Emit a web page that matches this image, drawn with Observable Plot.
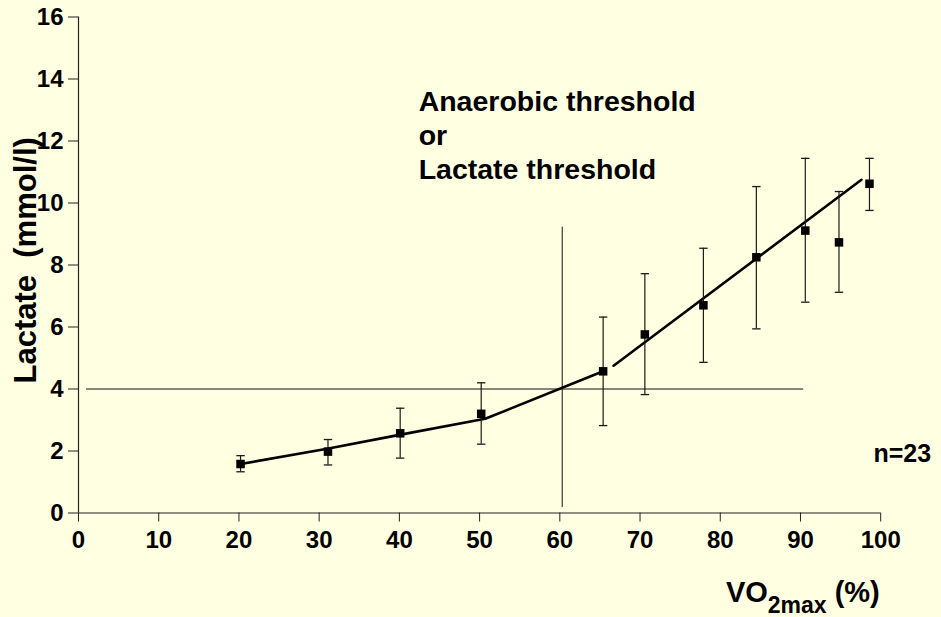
<!DOCTYPE html>
<html><head><meta charset="utf-8">
<script src="https://cdn.jsdelivr.net/npm/d3@7"></script>
<script src="https://cdn.jsdelivr.net/npm/@observablehq/plot@0.6"></script>
<style>
html,body{margin:0;padding:0;background:#FFFFE2;overflow:hidden;}
#chart svg{display:block;}
</style></head><body><div id="chart"></div>
<script>
// ---- data ----
const vo2 = [20.2, 31.1, 40.1, 50.2, 65.4, 70.6, 77.9, 84.5, 90.6, 94.8, 98.6];
const lactate = [1.58, 1.98, 2.57, 3.2, 4.57, 5.76, 6.7, 8.25, 9.11, 8.73, 10.62];
const errLow = [1.33, 1.55, 1.77, 2.22, 2.82, 3.82, 4.86, 5.94, 6.8, 7.12, 9.76];
const errHigh = [1.85, 2.37, 3.38, 4.2, 6.32, 7.72, 8.54, 10.53, 11.44, 10.37, 11.44];
const fit1X = [20.2, 31, 40, 50.7, 65.4];
const fit1Y = [1.58, 2.07, 2.52, 3.04, 4.57];
const fit2X = [66.7, 97.6];
const fit2Y = [4.75, 10.75];
const thresholdLactate = 4;       // horizontal line
const thresholdLineX = [1, 90.4];
const thresholdVO2 = 60.3;        // vertical line
const thresholdLineY = [0.18, 9.22];
const xTicks = [0, 10, 20, 30, 40, 50, 60, 70, 80, 90, 100];
const yTicks = [0, 2, 4, 6, 8, 10, 12, 14, 16];
const annotationLines = ["Anaerobic threshold", "or", "Lactate threshold"];
const annotationY = [12.98, 11.87, 10.76];
const sampleLabel = "n=23";
const yLabel = "Lactate  (mmol/l)";
const xLabelMain = "VO", xLabelSub = "2max", xLabelUnit = " (%)";

// ---- tables built from the arrays ----
const points = vo2.map((x, i) => ({x, y: lactate[i], lo: errLow[i], hi: errHigh[i]}));
const fit1 = fit1X.map((x, i) => ({x, y: fit1Y[i]}));
const fit2 = fit2X.map((x, i) => ({x, y: fit2Y[i]}));
const ann = annotationLines.map((t, i) => ({t, y: annotationY[i]}));

const capSymbol = {
  draw(ctx, size) { const r = Math.sqrt(size / Math.PI); ctx.moveTo(-r, 0); ctx.lineTo(r, 0); }
};
const FONT = "Liberation Sans, Arial, sans-serif";

const chart = Plot.plot({
  width: 941,
  height: 617,
  marginLeft: 78,
  marginRight: 60.8,
  marginTop: 16.5,
  marginBottom: 104.5,
  style: {background: "transparent", fontFamily: FONT, fontWeight: "bold", fontSize: "24px", color: "#000", overflow: "visible"},
  x: {domain: [0, 100]},
  y: {domain: [0, 16]},
  marks: [
    Plot.ruleX([0], {y1: 0, y2: 16, stroke: "#222", strokeWidth: 1.2}),
    Plot.ruleY([0], {x1: 0, x2: 100, stroke: "#222", strokeWidth: 1.2}),
    Plot.axisX({ticks: xTicks, tickSize: 9, tickPadding: 9, label: null, stroke: "#222", fill: "#000", tickFormat: d => String(d), fontSize: 24, fontWeight: "bold", fontFamily: FONT}),
    Plot.axisY({ticks: yTicks, tickSize: 10, tickPadding: 5, label: null, stroke: "#222", fill: "#000", tickFormat: d => String(d), fontSize: 24, fontWeight: "bold", fontFamily: FONT}),
    Plot.ruleY([thresholdLactate], {x1: thresholdLineX[0], x2: thresholdLineX[1], stroke: "#111", strokeWidth: 1}),
    Plot.ruleX([thresholdVO2], {y1: thresholdLineY[0], y2: thresholdLineY[1], stroke: "#111", strokeWidth: 1}),
    Plot.line(fit1, {x: "x", y: "y", stroke: "#000", strokeWidth: 2.6}),
    Plot.line(fit2, {x: "x", y: "y", stroke: "#000", strokeWidth: 2.6}),
    Plot.ruleX(points, {x: "x", y1: "lo", y2: "hi", stroke: "#1a1a1a", strokeWidth: 1.2}),
    Plot.dot(points, {x: "x", y: "lo", symbol: capSymbol, r: 4.2, stroke: "#1a1a1a", fill: "none", strokeWidth: 1.3}),
    Plot.dot(points, {x: "x", y: "hi", symbol: capSymbol, r: 4.2, stroke: "#1a1a1a", fill: "none", strokeWidth: 1.3}),
    Plot.dot(points, {x: "x", y: "y", symbol: "square", r: 4.8, fill: "#000"}),
    Plot.text(ann, {x: 42.4, y: "y", text: "t", textAnchor: "start", lineAnchor: "bottom", fontSize: 28.5, fontWeight: "bold", fontFamily: FONT, fill: "#000"}),
    Plot.text([sampleLabel], {x: 99.1, y: 1.64, text: d => d, textAnchor: "start", lineAnchor: "bottom", fontSize: 25, fontWeight: "bold", fontFamily: FONT, fill: "#000"}),
    Plot.text([yLabel], {x: -6.56, y: 8.15, text: d => d, rotate: -90, textAnchor: "middle", lineAnchor: "middle", fontSize: 31, fontWeight: "bold", fontFamily: FONT, fill: "#000"}),
    Plot.text([xLabelMain + xLabelSub + xLabelUnit], {x: 80.7, y: -2.88, text: d => d, textAnchor: "start", lineAnchor: "bottom", fontSize: 29, fontWeight: "bold", fontFamily: FONT, fill: "#000"})
  ]
});

// subscript for the x-axis title
const full = xLabelMain + xLabelSub + xLabelUnit;
const xt = Array.from(chart.querySelectorAll("text")).find(t => t.textContent === full);
if (xt) {
  while (xt.firstChild) xt.removeChild(xt.firstChild);
  const ns = "http://www.w3.org/2000/svg";
  const a = document.createElementNS(ns, "tspan"); a.textContent = xLabelMain; xt.appendChild(a);
  const b = document.createElementNS(ns, "tspan"); b.textContent = xLabelSub; b.setAttribute("font-size", "23"); b.setAttribute("dy", "11"); xt.appendChild(b);
  const c = document.createElementNS(ns, "tspan"); c.textContent = xLabelUnit; c.setAttribute("dy", "-11"); xt.appendChild(c);
}
document.getElementById("chart").appendChild(chart);
</script>
</body></html>
